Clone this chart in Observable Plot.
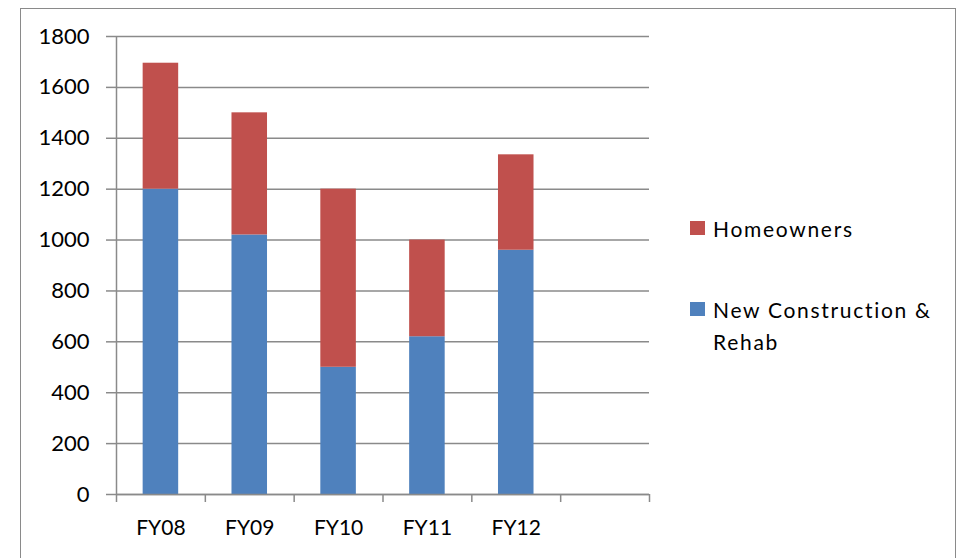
<!DOCTYPE html>
<html>
<head>
<meta charset="utf-8">
<script src="https://cdn.jsdelivr.net/npm/d3@7"></script>
<script src="https://cdn.jsdelivr.net/npm/@observablehq/plot@0.6"></script>
<style>
  html, body { margin: 0; padding: 0; background: #fff; }
  #wrap { position: relative; width: 958px; height: 558px; overflow: hidden; font-family: Lato, "Open Sans", sans-serif; }
  #border { position: absolute; left: 20px; top: 8px; width: 936px; height: 600px; border: 1.5px solid #8a8a8a; box-sizing: border-box; }
  #chart { position: absolute; left: 0; top: 0; }
  .leg { position: absolute; font-size: 21px; color: #000; line-height: 32px; letter-spacing: 1.7px; white-space: nowrap; }
  .sw { position: absolute; width: 15px; height: 14px; }
</style>
</head>
<body>
<div id="wrap">
  <div id="border"></div>
  <div id="chart"></div>
</div>
<script>
const categories = ["FY08", "FY09", "FY10", "FY11", "FY12"];
const newConstruction = [1200, 1020, 500, 620, 960];
const homeowners = [495, 480, 700, 380, 375];
const yTicks = [0, 200, 400, 600, 800, 1000, 1200, 1400, 1600, 1800];
const seriesNames = ["Homeowners", "New Construction & Rehab"];
const seriesColors = ["#C0504D", "#4F81BD"];

const slots = 6; // Excel category axis has one empty extra slot
const rows = [];
categories.forEach((c, i) => {
  rows.push({cat: c, i, series: seriesNames[1], y1: 0, y2: newConstruction[i]});
  rows.push({cat: c, i, series: seriesNames[0], y1: newConstruction[i], y2: newConstruction[i] + homeowners[i]});
});

const gray = "#8a8a8a";
const plot = Plot.plot({
  width: 958,
  height: 558,
  marginLeft: 116,
  marginRight: 309,
  marginTop: 36,
  marginBottom: 64,
  style: {fontFamily: "Lato, 'Open Sans', sans-serif", background: "transparent", color: "#000"},
  x: {type: "linear", domain: [0, slots], axis: null},
  y: {domain: [0, 1800], axis: null},
  color: {domain: seriesNames, range: seriesColors},
  marks: [
    Plot.gridY(yTicks, {stroke: gray, strokeOpacity: 1, strokeWidth: 1.5}),
    Plot.axisY(yTicks, {anchor: "left", tickSize: 10, tickPadding: 17, fontSize: 22, tickFormat: d => String(d), stroke: gray, strokeWidth: 1.5, strokeOpacity: 1, fill: "#000", label: null}),
    Plot.rectY(rows, {x1: d => d.i + 0.3, x2: d => d.i + 0.7, y1: "y1", y2: "y2", fill: "series"}),
    Plot.ruleY([0], {stroke: gray, strokeWidth: 1.5}),
    Plot.axisX(d3.range(0, slots + 1), {anchor: "bottom", tickSize: 8, tickFormat: () => "", stroke: gray, strokeWidth: 1.5, strokeOpacity: 1, label: null}),
    Plot.axisX(categories.map((c, i) => i + 0.5), {anchor: "bottom", tickSize: 0, tickPadding: 26, fontSize: 21, fill: "#000", tickFormat: v => categories[Math.round(v - 0.5)], label: null}),
    Plot.ruleX([0], {y1: 0, y2: 1800, stroke: gray, strokeWidth: 1.5})
  ]
});
document.getElementById("chart").appendChild(plot);

// Legend (Excel order: Homeowners on top)
const wrap = document.getElementById("wrap");
const legendItems = [
  {name: seriesNames[0], color: seriesColors[0], sqTop: 221, lines: ["Homeowners"], textTop: 213},
  {name: seriesNames[1], color: seriesColors[1], sqTop: 302, lines: ["New Construction &", "Rehab"], textTop: 294}
];
legendItems.forEach(it => {
  const sw = document.createElement("div");
  sw.className = "sw";
  sw.style.left = "690px";
  sw.style.top = it.sqTop + "px";
  sw.style.background = it.color;
  wrap.appendChild(sw);
  const t = document.createElement("div");
  t.className = "leg";
  t.style.left = "713px";
  t.style.top = it.textTop + "px";
  t.innerHTML = it.lines.map(l => l.replace("&", "&amp;")).join("<br>");
  wrap.appendChild(t);
});
</script>
</body>
</html>
